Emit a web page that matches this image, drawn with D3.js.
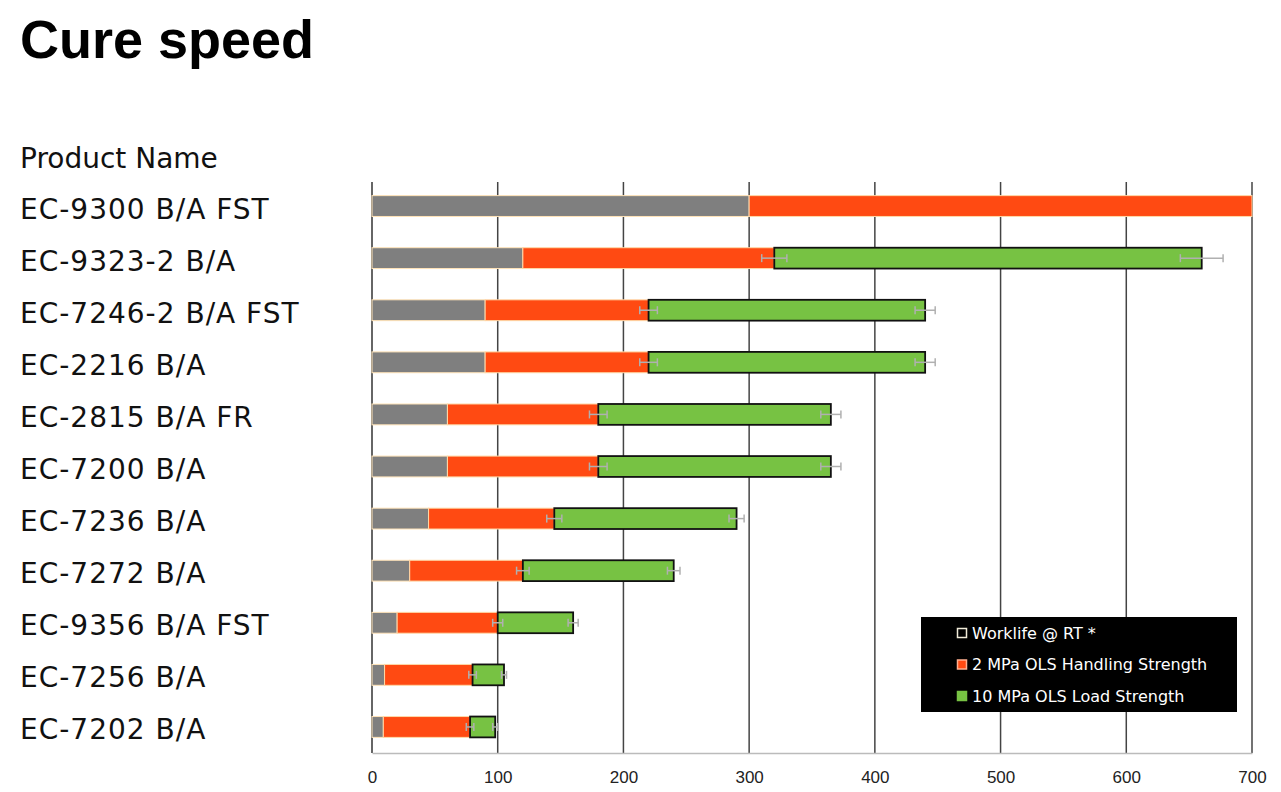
<!DOCTYPE html>
<html>
<head>
<meta charset="utf-8">
<script src="https://cdn.jsdelivr.net/npm/d3@7"></script>
<style>
  html, body { margin: 0; padding: 0; background: #fff; }
  svg { display: block; }
</style>
</head>
<body>
<svg id="chart" width="1281" height="792"></svg>
<script>
// ---- Data ----
const categories = ["EC-9300 B/A FST","EC-9323-2 B/A","EC-7246-2 B/A FST","EC-2216 B/A","EC-2815 B/A FR","EC-7200 B/A","EC-7236 B/A","EC-7272 B/A","EC-9356 B/A FST","EC-7256 B/A","EC-7202 B/A"];
const worklife   = [300, 120,  90,  90,  60,  60,  45,  30,  20,  10,   9];
const handling   = [700, 320, 220, 220, 180, 180, 145, 120, 100,  80,  78];
const loadStr    = [null,660, 440, 440, 365, 365, 290, 240, 160, 105,  98];
const handlingErr= [0,   10,   7,   7,   7,   7,   6,   5,   4,   3,   3];
const loadErr    = [0,   17,   8,   8,   8,   8,   6,   5,   4,   2,   2];
const xTicks     = [0,100,200,300,400,500,600,700];
const seriesNames = ["Worklife @ RT *","2 MPa OLS Handling Strength","10 MPa OLS Load Strength"];

const svg = d3.select("#chart");
const x = d3.scaleLinear().domain([0,700]).range([372,1252]);
const y = d3.scaleBand().domain(categories).range([180,753]).paddingInner(0.6).paddingOuter(0.3);

const labelFont = "'DejaVu Sans', 'Liberation Sans', Arial, sans-serif";

// Title
svg.append("text").attr("x",20).attr("y",58)
  .attr("font-family","'Liberation Sans', Arial, sans-serif").attr("font-weight",700)
  .attr("font-size",54).attr("fill","#000").text("Cure speed");
svg.append("text").attr("x",20).attr("y",168)
  .attr("font-family",labelFont).attr("font-size",28).attr("fill","#111").text("Product Name");

// Category labels
svg.append("g").selectAll("text").data(categories).join("text")
  .attr("x",20).attr("y",d=>y(d)+y.bandwidth()/2+12.5)
  .attr("font-family",labelFont).attr("font-size",28).attr("letter-spacing",1)
  .attr("fill","#111")
  .text(d=>d);

// Grid lines
svg.append("g").selectAll("line").data(xTicks).join("line")
  .attr("x1",d=>x(d)).attr("x2",d=>x(d)).attr("y1",182).attr("y2",753)
  .attr("stroke",d=>d===0?"#333":"#444").attr("stroke-width",1.5);

// Bottom axis
const axis = d3.axisBottom(x).tickValues(xTicks).tickSize(0).tickPadding(18);
const ag = svg.append("g").attr("transform","translate(0,753)").call(axis);
ag.select(".domain").attr("stroke","#bbb").attr("stroke-width",1.5);
ag.selectAll("text").attr("font-family","'Liberation Sans', Arial, sans-serif")
  .attr("font-size",17).attr("fill","#222");

// Bars
const rows = categories.map((c,i)=>({c, w:worklife[i], h:handling[i], l:loadStr[i], he:handlingErr[i], le:loadErr[i]}));
const bh = y.bandwidth();
const g = svg.append("g");
// worklife
g.selectAll("rect.wl").data(rows).join("rect").attr("class","wl")
  .attr("x",x(0)).attr("y",d=>y(d.c)).attr("width",d=>x(d.w)-x(0)).attr("height",bh)
  .attr("fill","#7f7f7f").attr("stroke","#ffe3b8").attr("stroke-width",1);
// handling
g.selectAll("rect.hs").data(rows).join("rect").attr("class","hs")
  .attr("x",d=>x(d.w)).attr("y",d=>y(d.c)).attr("width",d=>x(d.h)-x(d.w)).attr("height",bh)
  .attr("fill","#ff4a12").attr("stroke","#ffd9a8").attr("stroke-width",1);
// load
g.selectAll("rect.ls").data(rows.filter(d=>d.l!=null)).join("rect").attr("class","ls")
  .attr("x",d=>x(d.h)).attr("y",d=>y(d.c)).attr("width",d=>x(d.l)-x(d.h)).attr("height",bh)
  .attr("fill","#77c243").attr("stroke","#111").attr("stroke-width",1.8);

// Error bars
const errs = [];
rows.forEach(d=>{
  if (d.he>0) errs.push({c:d.c, v:d.h, e:d.he});
  if (d.l!=null && d.le>0) errs.push({c:d.c, v:d.l, e:d.le});
});
const eg = svg.append("g").attr("stroke","#b0b0b0").attr("stroke-width",1.5);
errs.forEach(d=>{
  const cy = y(d.c)+bh/2;
  eg.append("line").attr("x1",x(d.v-d.e)).attr("x2",x(d.v+d.e)).attr("y1",cy).attr("y2",cy);
  eg.append("line").attr("x1",x(d.v-d.e)).attr("x2",x(d.v-d.e)).attr("y1",cy-4).attr("y2",cy+4);
  eg.append("line").attr("x1",x(d.v+d.e)).attr("x2",x(d.v+d.e)).attr("y1",cy-4).attr("y2",cy+4);
});

// Legend
const lg = svg.append("g");
lg.append("rect").attr("x",921).attr("y",617).attr("width",316).attr("height",95).attr("fill","#000");
const legFill = ["#000","#ff4a12","#77c243"];
const legStroke = ["#f0ead8","#ffb090","#77c243"];
seriesNames.forEach((s,i)=>{
  const cy = 633 + i*31.5;
  lg.append("rect").attr("x",957.5).attr("y",cy-4.5).attr("width",9).attr("height",9)
    .attr("fill",legFill[i]).attr("stroke",legStroke[i]).attr("stroke-width",1.5);
  lg.append("text").attr("x",972).attr("y",cy+5.5).attr("font-family","'DejaVu Sans', Arial, sans-serif")
    .attr("font-size",16).attr("fill","#fff").text(s);
});
</script>
</body>
</html>
